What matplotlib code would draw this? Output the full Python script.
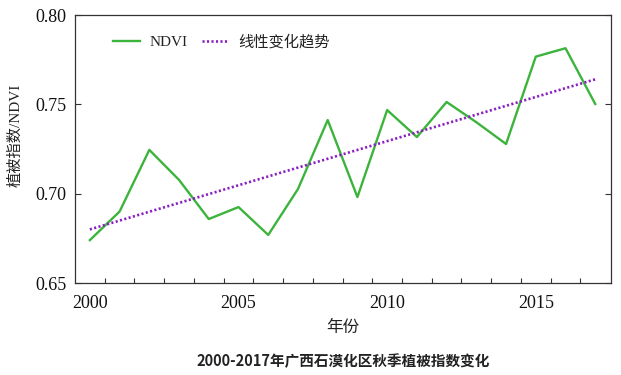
import numpy as np
import matplotlib
matplotlib.use("Agg")
import matplotlib.pyplot as plt
from matplotlib.ticker import FixedLocator

# Data
years = [2000, 2001, 2002, 2003, 2004, 2005, 2006, 2007, 2008,
         2009, 2010, 2011, 2012, 2013, 2014, 2015, 2016, 2017]
ndvi = [0.674, 0.690, 0.7245, 0.7077, 0.6858, 0.6925, 0.6769, 0.7026, 0.7412,
        0.6981, 0.7468, 0.7317, 0.7513, 0.740, 0.7278, 0.7767, 0.7814, 0.7502]
trend_years = [2000, 2017]
trend_vals = [0.680, 0.764]
xtick_years = [2000, 2005, 2010, 2015]
yticks = [0.65, 0.70, 0.75, 0.80]

serif = ["Liberation Serif", "Noto Sans CJK SC"]
cjk = ["Noto Sans CJK SC", "DejaVu Sans"]
plt.rcParams["font.family"] = serif

fig = plt.figure(figsize=(6.21, 3.75), dpi=100)
ax = fig.add_axes([75 / 621, 1 - 283 / 375, 536 / 621, 268 / 375])

ax.plot(years, ndvi, color="#3cb43c", lw=1.7, label="NDVI")
ax.plot(trend_years, trend_vals, color="#8a1fc2", lw=1.9, ls=(0, (0.8, 0.9)),
        label="线性变化趋势")

ax.set_xlim(1999.5, 2017.53)
ax.set_ylim(0.65, 0.80)

ax.set_xticks(xtick_years)
ax.set_xticklabels([str(y) for y in xtick_years])
ax.xaxis.set_minor_locator(FixedLocator([y + 0.5 for y in years[:-1]]))
ax.tick_params(axis="x", which="major", length=0, pad=9, labelsize=13,
               labelcolor="#111111")
ax.tick_params(axis="x", which="minor", direction="in", length=3.6, width=0.8,
               color="#333333")

ax.set_yticks(yticks)
ax.set_yticklabels(["%.2f" % v for v in yticks])
ax.tick_params(axis="y", direction="in", length=4, width=0.8, right=True,
               labelsize=13, pad=6, color="#333333", labelcolor="#111111")

for s in ax.spines.values():
    s.set_color("#333333")
    s.set_linewidth(0.9)

ax.set_xlabel("年份", family=cjk, fontsize=12, color="#222222", labelpad=5)
ax.set_ylabel("植被指数/NDVI", family=serif, fontsize=11, color="#222222")
ax.yaxis.set_label_coords(-0.098, 0.55)

leg = ax.legend(loc="center left", bbox_to_anchor=((113 - 75) / 536, (283 - 42) / 268),
                ncol=2, frameon=False, fontsize=11, borderpad=0, borderaxespad=0,
                handlelength=1.75, handletextpad=0.65, columnspacing=0.9)
for t in leg.get_texts():
    t.set_color("#222222")

fig.text(343 / 621, 1 - 361 / 375, "2000-2017年广西石漠化区秋季植被指数变化",
         family=cjk, fontsize=10.5, fontweight="bold", ha="center", va="center",
         color="#222222")

fig.savefig("out.png", dpi=100)
